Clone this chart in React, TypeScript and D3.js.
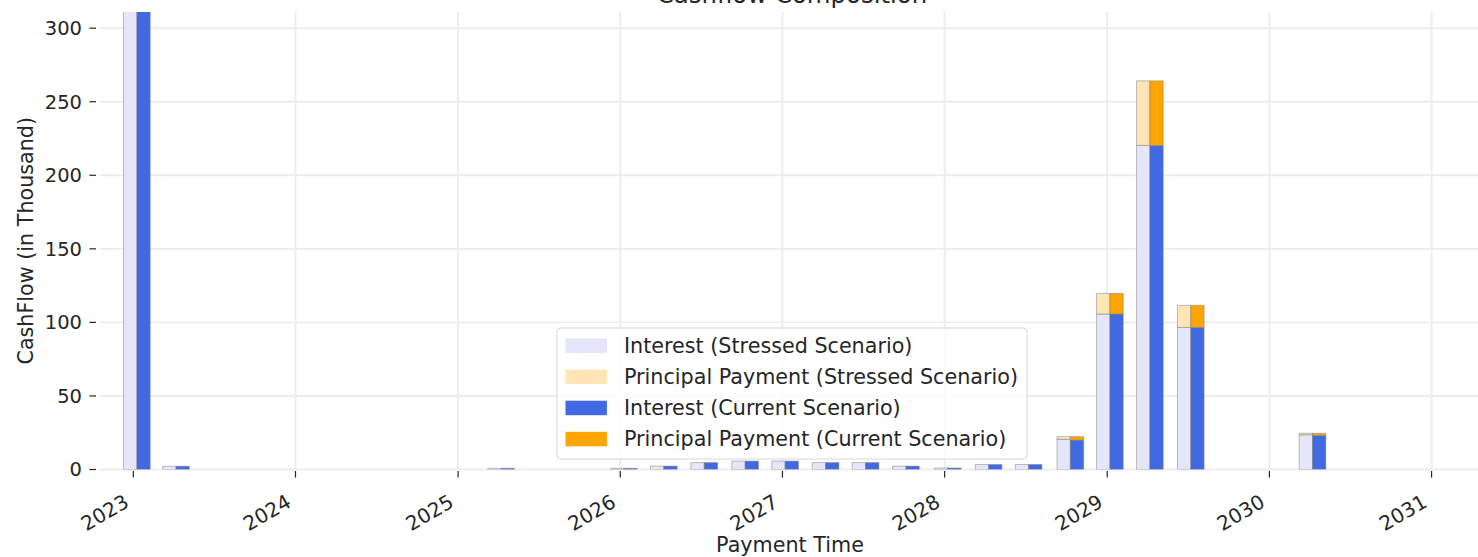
import React from "react";
import * as d3 from "d3";

// payment dates (quarterly, roughly the 8th of the month)
const paymentDates = [
  "2023-01-09", "2023-04-07", "2025-04-08", "2026-01-09", "2026-04-09",
  "2026-07-09", "2026-10-09", "2027-01-07", "2027-04-08", "2027-07-07",
  "2027-10-06", "2028-01-08", "2028-04-09", "2028-07-08", "2028-10-10",
  "2029-01-07", "2029-04-07", "2029-07-08", "2030-04-08",
];

// values in thousand
const stressedInterest = [325, 2.2, 0.8, 0.8, 2.3, 4.7, 5.7, 5.7, 4.7, 4.7, 2.3, 1.0, 3.4, 3.4, 20.5, 105.7, 220.3, 96.6, 23.6];
const stressedPrincipal = [0, 0, 0, 0, 0, 0, 0, 0, 0, 0, 0, 0, 0, 0, 1.8, 14.0, 43.9, 15.0, 1.0];
const currentInterest = [325, 2.2, 0.8, 0.8, 2.3, 4.7, 5.7, 5.7, 4.7, 4.7, 2.3, 1.0, 3.4, 3.4, 20.0, 105.7, 220.3, 96.6, 23.2];
const currentPrincipal = [0, 0, 0, 0, 0, 0, 0, 0, 0, 0, 0, 0, 0, 0, 2.3, 14.0, 43.9, 15.0, 1.4];

const yTicks = [0, 50, 100, 150, 200, 250, 300];
const xTickYears = [2023, 2024, 2025, 2026, 2027, 2028, 2029, 2030, 2031];

const legendItems = [
  { label: "Interest (Stressed Scenario)", color: "#E6E6FA" },
  { label: "Principal Payment (Stressed Scenario)", color: "#FFE4B5" },
  { label: "Interest (Current Scenario)", color: "#4169E1" },
  { label: "Principal Payment (Current Scenario)", color: "#FFA500" },
];

const App = () => {
  const width = 1478;
  const height = 557;
  const M = { LEFT: 100, RIGHT: 1480, TOP: 12, BOTTOM: 469.5 };
  const font = "DejaVu Sans, sans-serif";
  const textColor = "#262626";

  const parse = d3.timeParse("%Y-%m-%d");
  const dates = paymentDates.map((d) => parse(d)!);

  const x = d3
    .scaleTime()
    .domain([new Date(2022, 9, 18), new Date(2031, 3, 20)])
    .range([M.LEFT, M.RIGHT]);

  const y = d3.scaleLinear().domain([0, 311]).range([M.BOTTOM, M.TOP]);

  const barDays = 30;
  const dayMs = 24 * 3600 * 1000;

  const bars: JSX.Element[] = [];
  dates.forEach((d, i) => {
    const xl = x(new Date(d.getTime() - barDays * dayMs));
    const xc = x(d);
    const xr = x(new Date(d.getTime() + barDays * dayMs));
    const groups = [
      { x0: xl, x1: xc, a: stressedInterest[i], b: stressedPrincipal[i], ca: "#E6E6FA", cb: "#FFE4B5" },
      { x0: xc, x1: xr, a: currentInterest[i], b: currentPrincipal[i], ca: "#4169E1", cb: "#FFA500" },
    ];
    groups.forEach((g, j) => {
      bars.push(
        <rect
          key={`a-${i}-${j}`}
          x={g.x0}
          y={y(g.a)}
          width={g.x1 - g.x0}
          height={y(0) - y(g.a)}
          fill={g.ca}
          stroke="rgba(128,128,128,0.5)"
          strokeWidth={1}
        />
      );
      if (g.b > 0) {
        bars.push(
          <rect
            key={`b-${i}-${j}`}
            x={g.x0}
            y={y(g.a + g.b)}
            width={g.x1 - g.x0}
            height={y(g.a) - y(g.a + g.b)}
            fill={g.cb}
            stroke="rgba(128,128,128,0.5)"
            strokeWidth={1}
          />
        );
      }
    });
  });

  const legendX = 557;
  const legendY = 328;
  const legendW = 470;
  const legendH = 131;

  return (
    <svg width={width} height={height} style={{ display: "block", position: "absolute", left: 0, top: 0 }} fontFamily={font}>
      <defs>
        <clipPath id="plotClip">
          <rect x={M.LEFT} y={M.TOP} width={M.RIGHT - M.LEFT} height={M.BOTTOM - M.TOP} />
        </clipPath>
      </defs>
      <rect width={width} height={height} fill="#fff" />

      {/* grid */}
      {yTicks.map((t) => (
        <line key={`gy${t}`} x1={M.LEFT} x2={M.RIGHT} y1={y(t)} y2={y(t)} stroke="#ededed" strokeWidth={1.9} />
      ))}
      {xTickYears.map((yr) => (
        <line key={`gx${yr}`} x1={x(new Date(yr, 0, 1))} x2={x(new Date(yr, 0, 1))} y1={M.TOP} y2={M.BOTTOM} stroke="#ededed" strokeWidth={1.9} />
      ))}

      <g clipPath="url(#plotClip)">{bars}</g>

      {/* y axis */}
      {yTicks.map((t) => (
        <g key={`yt${t}`}>
          <line x1={89.4} x2={96} y1={y(t)} y2={y(t)} stroke={textColor} strokeWidth={1.2} />
          <text x={82} y={y(t)} dy="0.35em" textAnchor="end" fontSize={19.5} fill={textColor}>
            {t}
          </text>
        </g>
      ))}
      <text transform={`translate(33, ${(M.TOP + M.BOTTOM) / 2}) rotate(-90)`} textAnchor="middle" fontSize={20.7} fill={textColor}>
        CashFlow (in Thousand)
      </text>

      {/* x axis */}
      {xTickYears.map((yr) => {
        const tx = x(new Date(yr, 0, 1));
        return (
          <g key={`xt${yr}`}>
            <line x1={tx} x2={tx} y1={471} y2={477.6} stroke={textColor} strokeWidth={1.2} />
            <text transform={`translate(${tx - 3}, 506) rotate(-30)`} textAnchor="end" fontSize={20} fill={textColor}>
              {yr}
            </text>
          </g>
        );
      })}
      <text x={(M.LEFT + M.RIGHT) / 2} y={552} textAnchor="middle" fontSize={20.7} fill={textColor}>
        Payment Time
      </text>

      {/* title (mostly above the visible area) */}
      <text x={792} y={2.5} textAnchor="middle" fontSize={24.4} fill={textColor}>
        Cashflow Composition
      </text>

      {/* legend */}
      <rect x={legendX} y={legendY} width={legendW} height={legendH} rx={4} fill="#fff" fillOpacity={0.8} stroke="#d6d6d6" strokeWidth={1} />
      {legendItems.map((item, i) => {
        const cy = 345.7 + i * 31.1;
        return (
          <g key={item.label}>
            <rect x={565.5} y={cy - 7.2} width={41.4} height={14.5} fill={item.color} />
            <text x={624} y={cy} dy="0.35em" fontSize={20.7} fill={textColor}>
              {item.label}
            </text>
          </g>
        );
      })}
    </svg>
  );
};

export default App;
